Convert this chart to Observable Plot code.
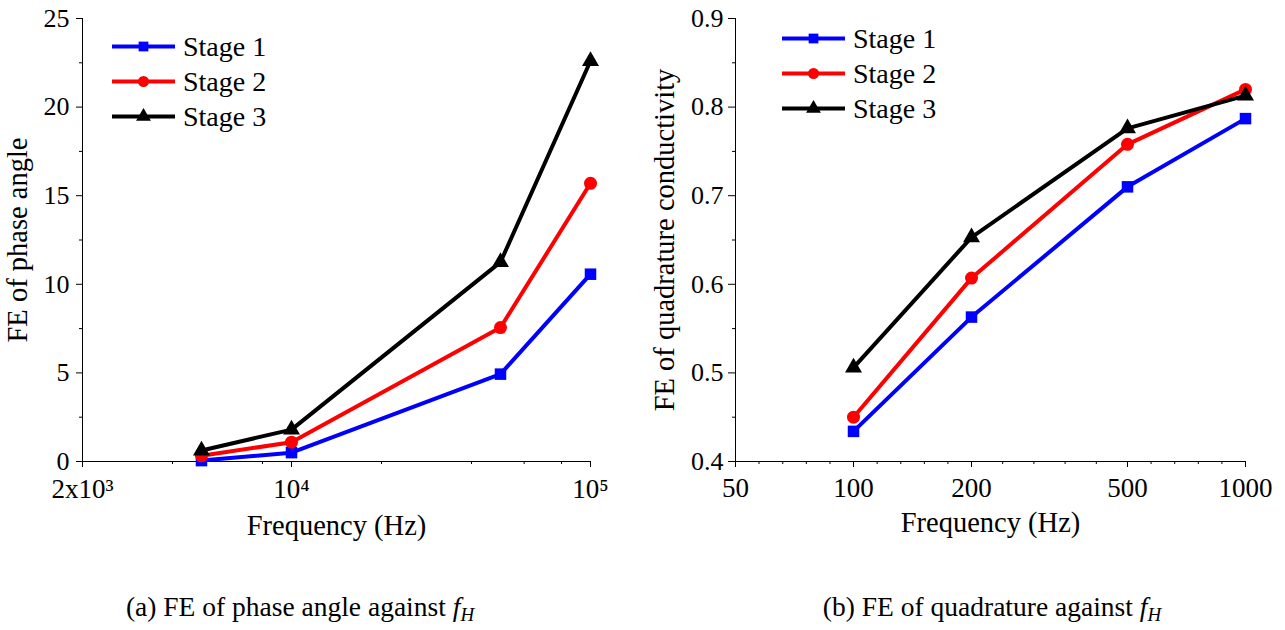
<!DOCTYPE html>
<html><head><meta charset="utf-8">
<script src="https://cdn.jsdelivr.net/npm/d3@7"></script>
<script src="https://cdn.jsdelivr.net/npm/@observablehq/plot@0.6"></script>
<style>
body{margin:0;background:#fff;}
#wrap{position:relative;width:1285px;height:630px;font-family:"Liberation Serif",serif;overflow:hidden;background:#fff;}
.panel{position:absolute;top:0;}
.caption{position:absolute;top:593px;font-size:27.5px;line-height:1;white-space:nowrap;transform:translateX(-50%);color:#000;font-family:"Liberation Serif",serif;}
.caption sub{font-size:19px;vertical-align:-5px;}
</style></head><body><div id="wrap"></div>
<script>
// ---- data ----
const stages = ["Stage 1", "Stage 2", "Stage 3"];
const colors = ["#0000ff", "#ff0000", "#000000"];
const symbols = ["square", "circle", "triangle"];

const freqA = [5000, 10000, 50000, 100000];
const phaseS1 = [0.05, 0.5, 4.93, 10.57];
const phaseS2 = [0.32, 1.09, 7.56, 15.7];
const phaseS3 = [0.62, 1.8, 11.25, 22.6];

const freqB = [100, 200, 500, 1000];
const quadS1 = [0.434, 0.563, 0.710, 0.787];
const quadS2 = [0.450, 0.607, 0.758, 0.820];
const quadS3 = [0.506, 0.653, 0.776, 0.813];

const xTicksA = [2000, 10000, 100000];
const xTickLabelsA = ["2x10³", "10⁴", "10⁵"];
const xMinorA = [4000, 8000, 20000, 40000, 60000, 80000];
const yTicksA = [0, 5, 10, 15, 20, 25];
const yMinorA = [2.5, 7.5, 12.5, 17.5, 22.5];

const xTicksB = [50, 100, 200, 500, 1000];
const xMinorB = [57.4, 66.0, 75.8, 87.1, 114.9, 132.0, 151.6, 174.1, 240.2, 288.5, 346.6, 416.3, 574.3, 659.8, 757.9, 870.6];
const yTicksB = [0.4, 0.5, 0.6, 0.7, 0.8, 0.9];
const yMinorB = [0.45, 0.55, 0.65, 0.75, 0.85];

const symbolR = [6.5, 6.5, 6.3];
const SERIF = "'Liberation Serif', 'Times New Roman', Times, serif";

// ---- helpers ----
function seriesMarks(freq, seriesList) {
  const marks = [];
  seriesList.forEach((vals, i) => {
    const rows = freq.map((f, j) => ({f, v: vals[j]}));
    marks.push(Plot.line(rows, {x: "f", y: "v", stroke: colors[i], strokeWidth: 4, strokeLinejoin: "miter"}));
    marks.push(Plot.dot(rows, {x: "f", y: "v", fill: colors[i], stroke: "none", symbol: symbols[i], r: symbolR[i]}));
  });
  return marks;
}

function addLegend(svg, x0, y0, dy) {
  const g = d3.select(svg).append("g").attr("aria-label", "legend").attr("text-anchor", "start");
  const d3sym = {square: d3.symbolSquare, circle: d3.symbolCircle, triangle: d3.symbolTriangle};
  stages.forEach((s, i) => {
    const y = y0 + i * dy;
    g.append("line").attr("x1", x0).attr("x2", x0 + 63).attr("y1", y).attr("y2", y)
      .attr("stroke", colors[i]).attr("stroke-width", 4);
    g.append("path").attr("d", d3.symbol(d3sym[symbols[i]], Math.PI * 5.5 * 5.5)())
      .attr("transform", `translate(${x0 + 31.5},${y})`).attr("fill", colors[i]);
    g.append("text").attr("x", x0 + 71).attr("y", y).attr("dy", "0.34em")
      .attr("text-anchor", "start").attr("font-size", 28).attr("fill", "#000").text(s);
  });
}

function fixFonts(svg) {
  const s = d3.select(svg);
  s.attr("font-family", SERIF);
  s.selectAll('g[aria-label="x-axis label"] text, g[aria-label="y-axis label"] text')
    .attr("font-size", 28.5).style("font-size", "28.5px");
  s.selectAll('g[aria-label="x-axis tick label"] text').attr("font-size", 27).style("font-size", "27px");
}

const baseStyle = {fontFamily: SERIF, fontSize: "26px", color: "#000", background: "transparent", overflow: "visible"};

// ---- panel (a) ----
const plotA = Plot.plot({
  width: 640, height: 560,
  marginLeft: 82, marginRight: 50, marginTop: 18, marginBottom: 99,
  style: baseStyle,
  x: {type: "log", domain: [2000, 100000]},
  y: {domain: [0, 25]},
  marks: [
    Plot.axisX(xMinorA, {tickSize: 3, text: () => "", label: null}),
    Plot.axisX(xTicksA, {tickSize: 6, tickPadding: 11, text: d => xTickLabelsA[xTicksA.indexOf(d)],
      label: "Frequency (Hz)", labelAnchor: "center", labelOffset: 73, labelArrow: "none"}),
    Plot.axisY(yMinorA, {tickSize: 3, text: () => "", label: null}),
    Plot.axisY(yTicksA, {tickSize: 6, tickPadding: 7, text: d => String(d),
      label: "FE of phase angle", labelAnchor: "center", labelOffset: 76, labelArrow: "none"}),
    Plot.ruleX([2000], {stroke: "#000"}),
    Plot.ruleY([0], {stroke: "#000"}),
    ...seriesMarks(freqA, [phaseS1, phaseS2, phaseS3])
  ]
});
plotA.classList.add("panel");
plotA.style.left = "0px";
addLegend(plotA, 112, 46.5, 35);
fixFonts(plotA);

// ---- panel (b) ----
const plotB = Plot.plot({
  width: 645, height: 560,
  marginLeft: 95, marginRight: 40, marginTop: 18, marginBottom: 99,
  style: baseStyle,
  x: {type: "log", domain: [50, 1000]},
  y: {domain: [0.4, 0.9]},
  marks: [
    Plot.axisX(xMinorB, {tickSize: 3, text: () => "", label: null}),
    Plot.axisX(xTicksB, {tickSize: 6, tickPadding: 10, text: d => String(d),
      label: "Frequency (Hz)", labelAnchor: "center", labelOffset: 70, labelArrow: "none"}),
    Plot.axisY(yMinorB, {tickSize: 3, text: () => "", label: null}),
    Plot.axisY(yTicksB, {tickSize: 7, tickPadding: 5, text: d => d.toFixed(1),
      label: "FE of quadrature conductivity", labelAnchor: "center", labelOffset: 82, labelArrow: "none"}),
    Plot.ruleX([50], {stroke: "#000"}),
    Plot.ruleY([0.4], {stroke: "#000"}),
    ...seriesMarks(freqB, [quadS1, quadS2, quadS3])
  ]
});
plotB.classList.add("panel");
plotB.style.left = "640px";
addLegend(plotB, 142, 38.5, 35);
fixFonts(plotB);

const wrap = document.getElementById("wrap");
wrap.appendChild(plotA);
wrap.appendChild(plotB);

// ---- captions ----
const capA = document.createElement("div");
capA.className = "caption";
capA.style.left = "300px";
capA.innerHTML = "(a) FE of phase angle against <i>f</i><sub><i>H</i></sub>";
wrap.appendChild(capA);
const capB = document.createElement("div");
capB.className = "caption";
capB.style.left = "992px";
capB.innerHTML = "(b) FE of quadrature against <i>f</i><sub><i>H</i></sub>";
wrap.appendChild(capB);
</script>
</body></html>
